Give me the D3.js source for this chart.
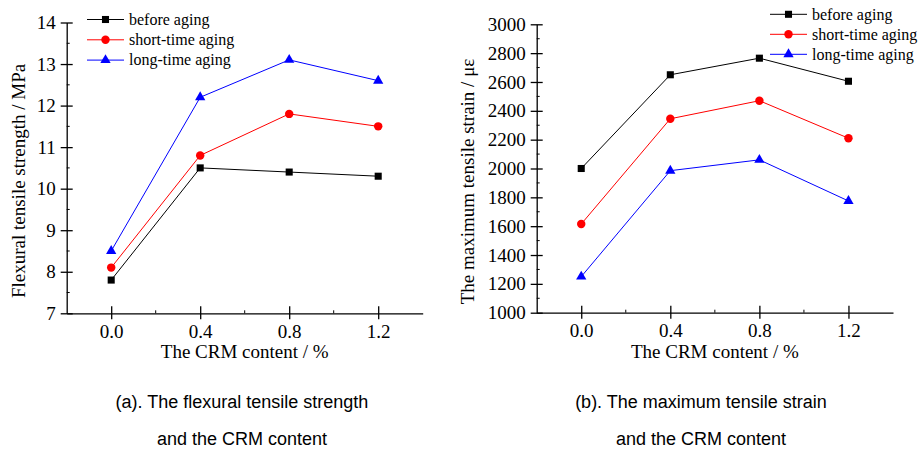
<!DOCTYPE html>
<html>
<head>
<meta charset="utf-8">
<script src="https://cdn.jsdelivr.net/npm/d3@7"></script>
<style>
  body { margin: 0; background: #fff; }
  svg { display: block; }
  .axis text { font-family: "Liberation Serif", "Times New Roman", serif; font-size: 19px; fill: #000; }
  .axis path, .axis line { stroke: #000; stroke-width: 1.3px; }
  .title { font-family: "Liberation Serif", "Times New Roman", serif; font-size: 19px; }
  .legend text { font-family: "Liberation Serif", "Times New Roman", serif; font-size: 16px; }
  .caption { font-family: "Liberation Sans", Arial, sans-serif; font-size: 18px; }
</style>
</head>
<body>
<div id="chart"></div>
<script>
// data
var crmContent = [0.0, 0.4, 0.8, 1.2];
var seriesNames = ["before aging", "short-time aging", "long-time aging"];

var strengthBefore = [7.8, 10.5, 10.4, 10.3];
var strengthShort = [8.1, 10.8, 11.8, 11.5];
var strengthLong = [8.5, 12.2, 13.1, 12.6];

var strainBefore = [2000, 2650, 2765, 2605];
var strainShort = [1615, 2345, 2470, 2210];
var strainLong = [1250, 1985, 2060, 1775];

var xTicks = [0.0, 0.4, 0.8, 1.2];
var xMinor = [0.2, 0.6, 1.0];
var strengthTicks = [7, 8, 9, 10, 11, 12, 13, 14];
var strainTicks = [1000, 1200, 1400, 1600, 1800, 2000, 2200, 2400, 2600, 2800, 3000];

var colors = ["#000000", "#ff0000", "#0000ff"];
var shapes = [d3.symbolSquare, d3.symbolCircle, d3.symbolTriangle];
var shapeSize = [50, 56, 46];

var svg = d3.select("#chart").append("svg")
  .attr("width", 922)
  .attr("height", 450);

function drawPanel(p) {
  var xScale = d3.scaleLinear().domain([-0.2, 1.4]).range([p.left, p.right]);
  var yScale = d3.scaleLinear().domain(p.yDomain).range([p.bottom, p.top]);

  var g = svg.append("g");

  // minor ticks (inside)
  g.selectAll(".xminor").data(xMinor).enter().append("line")
    .attr("x1", d => xScale(d)).attr("x2", d => xScale(d))
    .attr("y1", p.bottom).attr("y2", p.bottom - 3)
    .attr("stroke", "#000").attr("stroke-width", 1);
  var yMinor = p.yTicks.slice(1).map((d, i) => (d + p.yTicks[i]) / 2);
  g.selectAll(".yminor").data(yMinor).enter().append("line")
    .attr("x1", p.left).attr("x2", p.left + 3)
    .attr("y1", d => yScale(d)).attr("y2", d => yScale(d))
    .attr("stroke", "#000").attr("stroke-width", 1);

  var xAxis = d3.axisBottom(xScale)
    .tickValues(xTicks)
    .tickFormat(d3.format(".1f"))
    .tickSizeInner(6)
    .tickSizeOuter(0)
    .tickPadding(5);
  var gx = g.append("g").attr("class", "axis")
    .attr("transform", `translate(0, ${p.bottom})`)
    .call(xAxis);
  gx.selectAll(".tick line").attr("y1", -7);

  var yAxis = d3.axisLeft(yScale)
    .tickValues(p.yTicks)
    .tickFormat(d3.format("d"))
    .tickSizeInner(6)
    .tickSizeOuter(0)
    .tickPadding(5);
  var gy = g.append("g").attr("class", "axis")
    .attr("transform", `translate(${p.left}, 0)`)
    .call(yAxis);
  gy.selectAll(".tick line").attr("x1", 6);

  // axis titles
  g.append("text").attr("class", "title")
    .attr("x", (xScale(-0.2) + xScale(1.4)) / 2)
    .attr("y", 358)
    .attr("text-anchor", "middle")
    .text("The CRM content / %");
  g.append("text").attr("class", "title")
    .attr("transform", `translate(${p.yTitleX}, ${(p.top + p.bottom) / 2 + 13}) rotate(-90)`)
    .attr("text-anchor", "middle")
    .text(p.yTitle);

  // series
  var line = d3.line()
    .x((d, i) => xScale(crmContent[i]))
    .y(d => yScale(d));
  p.series.forEach(function (vals, k) {
    g.append("path")
      .attr("d", line(vals))
      .attr("fill", "none")
      .attr("stroke", colors[k])
      .attr("stroke-width", 1);
    g.selectAll(".m" + k).data(vals).enter().append("path")
      .attr("transform", (d, i) => `translate(${xScale(crmContent[i])}, ${yScale(d)})`)
      .attr("d", d3.symbol().type(shapes[k]).size(shapeSize[k]))
      .attr("fill", colors[k]);
  });

  // legend
  var lg = g.append("g").attr("class", "legend");
  seriesNames.forEach(function (name, k) {
    var y = p.legendY + k * p.legendStep;
    lg.append("line")
      .attr("x1", p.legendX).attr("x2", p.legendX + 37)
      .attr("y1", y).attr("y2", y)
      .attr("stroke", colors[k]).attr("stroke-width", 1);
    lg.append("path")
      .attr("transform", `translate(${p.legendX + 18.5}, ${y})`)
      .attr("d", d3.symbol().type(shapes[k]).size(shapeSize[k]))
      .attr("fill", colors[k]);
    lg.append("text")
      .attr("x", p.legendX + 42)
      .attr("y", y)
      .attr("dy", "0.33em")
      .text(name);
  });

  // caption
  g.append("text").attr("class", "caption")
    .attr("x", p.capX).attr("y", 408)
    .attr("text-anchor", "middle")
    .text(p.caption);
  g.append("text").attr("class", "caption")
    .attr("x", p.capX).attr("y", 445)
    .attr("text-anchor", "middle")
    .text("and the CRM content");
}

drawPanel({
  left: 66.7, right: 422.7, top: 22.5, bottom: 313.3,
  yDomain: [7, 14], yTicks: strengthTicks,
  series: [strengthBefore, strengthShort, strengthLong],
  yTitle: "Flexural tensile strength / MPa", yTitleX: 25,
  legendX: 87, legendY: 19.5, legendStep: 20.3,
  caption: "(a). The flexural tensile strength", capX: 242
});

drawPanel({
  left: 536.7, right: 893, top: 24.3, bottom: 312.7,
  yDomain: [1000, 3000], yTicks: strainTicks,
  series: [strainBefore, strainShort, strainLong],
  yTitle: "The maximum tensile strain / \u03bc\u03b5", yTitleX: 474,
  legendX: 770, legendY: 14.3, legendStep: 20,
  caption: "(b). The maximum tensile strain", capX: 701
});
</script>
</body>
</html>
